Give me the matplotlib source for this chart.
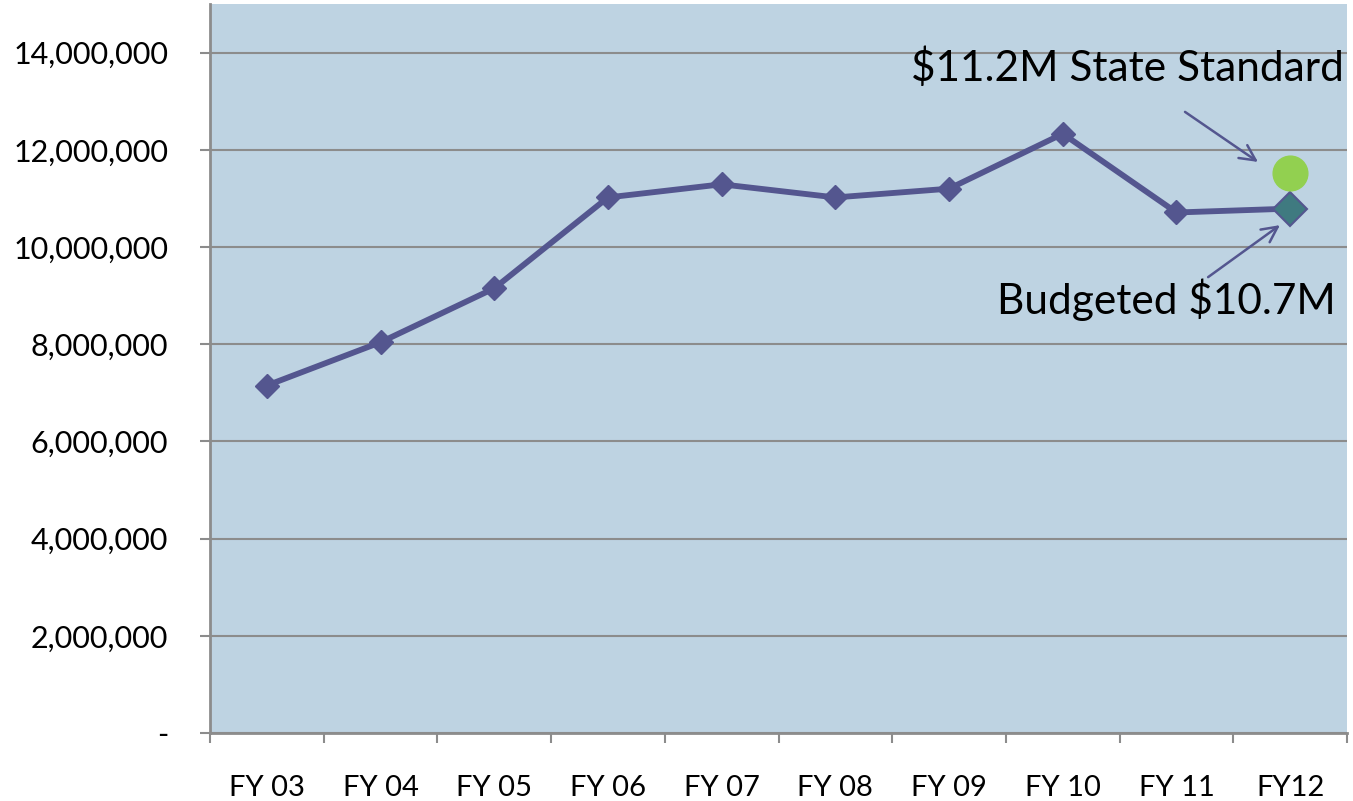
import matplotlib
matplotlib.use("Agg")
import matplotlib.pyplot as plt
from matplotlib.ticker import FuncFormatter, FixedLocator

years = ["FY 03", "FY 04", "FY 05", "FY 06", "FY 07", "FY 08", "FY 09", "FY 10", "FY 11", "FY12"]
spending = [7150000, 8040000, 9150000, 11020000, 11290000, 11020000, 11200000, 12330000, 10710000, 10790000]
state_standard = 11530000

plt.rcParams['font.family'] = ['Lato', 'DejaVu Sans']

fig = plt.figure(figsize=(13.53, 8.01), dpi=100)
ax = fig.add_axes([0.1552, 0.0849, 0.8404, 0.9101])
ax.set_facecolor("#BED3E2")

x = list(range(len(years)))
line_col = "#54568F"
ax.plot(x[:-1], spending[:-1], color=line_col, lw=4.2, marker="D", ms=12, zorder=3)
ax.plot(x[-2:], spending[-2:], color=line_col, lw=4.2, zorder=3)
# budgeted FY12 point
ax.plot(x[-1], spending[-1], marker="D", ms=17, color="#3F7A80", mec=line_col, mew=1.5, zorder=4)
# state standard point
ax.plot(x[-1], state_standard, marker="o", ms=25, color="#92D050", mec="#92D050", zorder=4)

ax.set_xlim(-0.5, len(years) - 0.5)
ax.set_ylim(0, 15000000)
ax.yaxis.set_major_locator(FixedLocator(range(0, 14000001, 2000000)))
ax.yaxis.set_major_formatter(FuncFormatter(lambda v, p: "-" if v == 0 else f"{int(v):,}"))
ax.grid(axis="y", color="#8C8C8C", lw=1.5)
ax.set_axisbelow(True)

ax.set_xticks(x)
ax.set_xticklabels(years)
ax.set_xticks([i - 0.5 for i in range(len(years) + 1)], minor=True)
ax.tick_params(axis="x", which="major", length=0, pad=30, labelsize=21)
ax.tick_params(axis="x", which="minor", length=7, width=1.5, color="#8C8C8C")
ax.tick_params(axis="y", length=7, width=1.5, color="#8C8C8C", pad=23, labelsize=22)

for s in ["top", "right"]:
    ax.spines[s].set_visible(False)
for s in ["left", "bottom"]:
    ax.spines[s].set_color("#8C8C8C")
    ax.spines[s].set_linewidth(2)

arrow = dict(arrowstyle="->", color=line_col, lw=1.8, mutation_scale=28, shrinkA=0, shrinkB=0)
ax.text(7.57, 13.68e6, "\\$11.2M State Standard", fontsize=30.5, ha="center", va="center", zorder=5)
ax.annotate("", xy=(8.717, 11.75e6), xytext=(8.075, 12.78e6), arrowprops=arrow, zorder=5)
ax.text(7.91, 8.91e6, "Budgeted \\$10.7M", fontsize=30.5, ha="center", va="center", zorder=5)
ax.annotate("", xy=(8.91, 10.45e6), xytext=(8.278, 9.38e6), arrowprops=arrow, zorder=5)

fig.savefig("out.png", dpi=100)
